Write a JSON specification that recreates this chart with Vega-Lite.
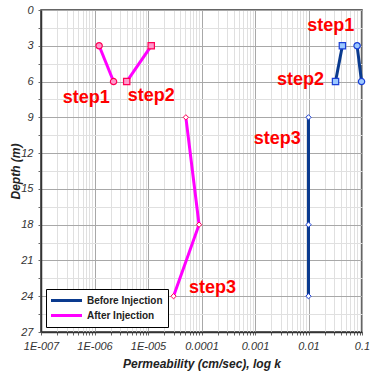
{
  "$schema": "https://vega.github.io/schema/vega-lite/v6.json",
  "autosize": {"type": "none"},
  "width": 321,
  "height": 322,
  "padding": {"left": 41, "top": 10, "right": 9, "bottom": 39},
  "background": "white",
  "config": {
    "view": {"stroke": "#333333", "strokeWidth": 1.5},
    "font": "Liberation Sans",
    "axis": {
      "labelFont": "Liberation Sans",
      "labelFontStyle": "italic",
      "labelFontSize": 11,
      "labelColor": "#333333",
      "titleFont": "Liberation Sans",
      "titleFontStyle": "italic",
      "titleFontWeight": "bold",
      "titleFontSize": 12,
      "titleColor": "#222222",
      "domainColor": "#333333",
      "domainWidth": 1.5,
      "ticks": true,
      "tickSize": 3,
      "tickColor": "#666666",
      "labelFlush": false
    },
    "legend": {
      "orient": "bottom-left",
      "offset": 5,
      "strokeColor": "#000000",
      "fillColor": "#ffffff",
      "padding": 5,
      "symbolType": "M-1.3,0H4.9",
      "symbolStrokeWidth": 3,
      "symbolSize": 100,
      "labelOffset": 23,
      "labelFont": "Liberation Sans",
      "labelFontWeight": "bold",
      "labelFontSize": 10,
      "labelColor": "#222222",
      "rowPadding": 2,
      "cornerRadius": 0
    }
  },
  "datasets": {
    "pts": [
      {"series": "After Injection", "step": "step1", "k": 1.22e-6, "depth": 3},
      {"series": "After Injection", "step": "step1", "k": 2.27e-6, "depth": 6},
      {"series": "After Injection", "step": "step2", "k": 4.0e-6, "depth": 6},
      {"series": "After Injection", "step": "step2", "k": 1.15e-5, "depth": 3},
      {"series": "After Injection", "step": "step3", "k": 5.1e-5, "depth": 9},
      {"series": "After Injection", "step": "step3", "k": 9.0e-5, "depth": 18},
      {"series": "After Injection", "step": "step3", "k": 3.0e-5, "depth": 24},
      {"series": "Before Injection", "step": "step1", "k": 0.081, "depth": 3},
      {"series": "Before Injection", "step": "step1", "k": 0.098, "depth": 6},
      {"series": "Before Injection", "step": "step2", "k": 0.043, "depth": 3},
      {"series": "Before Injection", "step": "step2", "k": 0.032, "depth": 6},
      {"series": "Before Injection", "step": "step3", "k": 0.01, "depth": 9},
      {"series": "Before Injection", "step": "step3", "k": 0.01, "depth": 18},
      {"series": "Before Injection", "step": "step3", "k": 0.01, "depth": 24}
    ],
    "labels": [
      {"text": "step1", "k": 7.0e-7, "depth": 7.4},
      {"text": "step2", "k": 1.15e-5, "depth": 7.2},
      {"text": "step3", "k": 1.6e-4, "depth": 23.3},
      {"text": "step1", "k": 0.026, "depth": 1.3},
      {"text": "step2", "k": 0.0071, "depth": 5.9},
      {"text": "step3", "k": 0.0026, "depth": 10.8}
    ]
  },
  "encoding": {
    "x": {
      "field": "k",
      "type": "quantitative",
      "scale": {"type": "log", "domain": [1e-7, 0.1], "nice": false},
      "axis": {
        "title": "Permeability (cm/sec), log k",
        "values": [1e-7, 2e-7, 3e-7, 4e-7, 5e-7, 6e-7, 7e-7, 8e-7, 9e-7,
                   1e-6, 2e-6, 3e-6, 4e-6, 5e-6, 6e-6, 7e-6, 8e-6, 9e-6,
                   1e-5, 2e-5, 3e-5, 4e-5, 5e-5, 6e-5, 7e-5, 8e-5, 9e-5,
                   1e-4, 2e-4, 3e-4, 4e-4, 5e-4, 6e-4, 7e-4, 8e-4, 9e-4,
                   1e-3, 2e-3, 3e-3, 4e-3, 5e-3, 6e-3, 7e-3, 8e-3, 9e-3,
                   1e-2, 2e-2, 3e-2, 4e-2, 5e-2, 6e-2, 7e-2, 8e-2, 9e-2, 0.1],
        "labelExpr": "abs(log(datum.value)/LN10 - round(log(datum.value)/LN10)) < 0.001 ? (round(log(datum.value)/LN10) >= -4 ? format(datum.value, '~g') : '1E-00' + (-round(log(datum.value)/LN10))) : ''",
        "labelPadding": 5,
        "titlePadding": 7,
        "grid": true,
        "gridColor": {"condition": {"test": "abs(log(datum.value)/LN10 - round(log(datum.value)/LN10)) < 0.001", "value": "#a8a8a8"}, "value": "#e0e0e0"},
        "labelOverlap": false
      }
    },
    "y": {
      "field": "depth",
      "type": "quantitative",
      "scale": {"domain": [0, 27], "reverse": true, "nice": false, "zero": false},
      "axis": {
        "title": "Depth (m)",
        "values": [0, 1.5, 3, 4.5, 6, 7.5, 9, 10.5, 12, 13.5, 15, 16.5, 18, 19.5, 21, 22.5, 24, 25.5, 27],
        "labelExpr": "datum.value % 3 == 0 ? datum.label : ''",
        "labelPadding": 5,
        "titlePadding": -2,
        "grid": true,
        "gridColor": {"condition": {"test": "datum.value % 3 == 0", "value": "#a8a8a8"}, "value": "#e0e0e0"},
        "labelOverlap": false
      }
    }
  },
  "layer": [
    {
      "data": {"name": "pts"},
      "mark": {"type": "line", "strokeWidth": 3},
      "encoding": {
        "color": {
          "field": "series",
          "type": "nominal",
          "scale": {"domain": ["Before Injection", "After Injection"], "range": ["#0a3a8e", "#ff00ff"]},
          "legend": {"title": null}
        },
        "detail": [{"field": "series"}, {"field": "step"}],
        "order": {"field": "depth"}
      }
    },
    {
      "data": {"name": "pts"},
      "transform": [{"filter": "datum.step != 'step3'"}],
      "mark": {"type": "point", "filled": false, "strokeWidth": 1.2, "size": 40, "opacity": 1},
      "encoding": {
        "shape": {"field": "step", "type": "nominal", "scale": {"domain": ["step1", "step2"], "range": ["circle", "square"]}, "legend": null},
        "fill": {"field": "series", "type": "nominal", "scale": {"domain": ["Before Injection", "After Injection"], "range": ["#9cc8ff", "#ff99cc"]}, "legend": null},
        "stroke": {"field": "series", "type": "nominal", "scale": {"domain": ["Before Injection", "After Injection"], "range": ["#1a3fd6", "#ff0055"]}, "legend": null}
      }
    },
    {
      "data": {"name": "pts"},
      "transform": [{"filter": "datum.step == 'step3'"}],
      "mark": {"type": "point", "shape": "diamond", "filled": false, "fill": "white", "fillOpacity": 1, "strokeWidth": 1, "size": 28, "opacity": 1},
      "encoding": {
        "stroke": {"field": "series", "type": "nominal", "legend": null}
      }
    },
    {
      "data": {"name": "labels"},
      "mark": {"type": "text", "font": "Liberation Sans", "fontWeight": "bold", "fontSize": 18, "color": "#ff0000", "align": "center", "baseline": "middle"},
      "encoding": {"text": {"field": "text"}}
    }
  ]
}
